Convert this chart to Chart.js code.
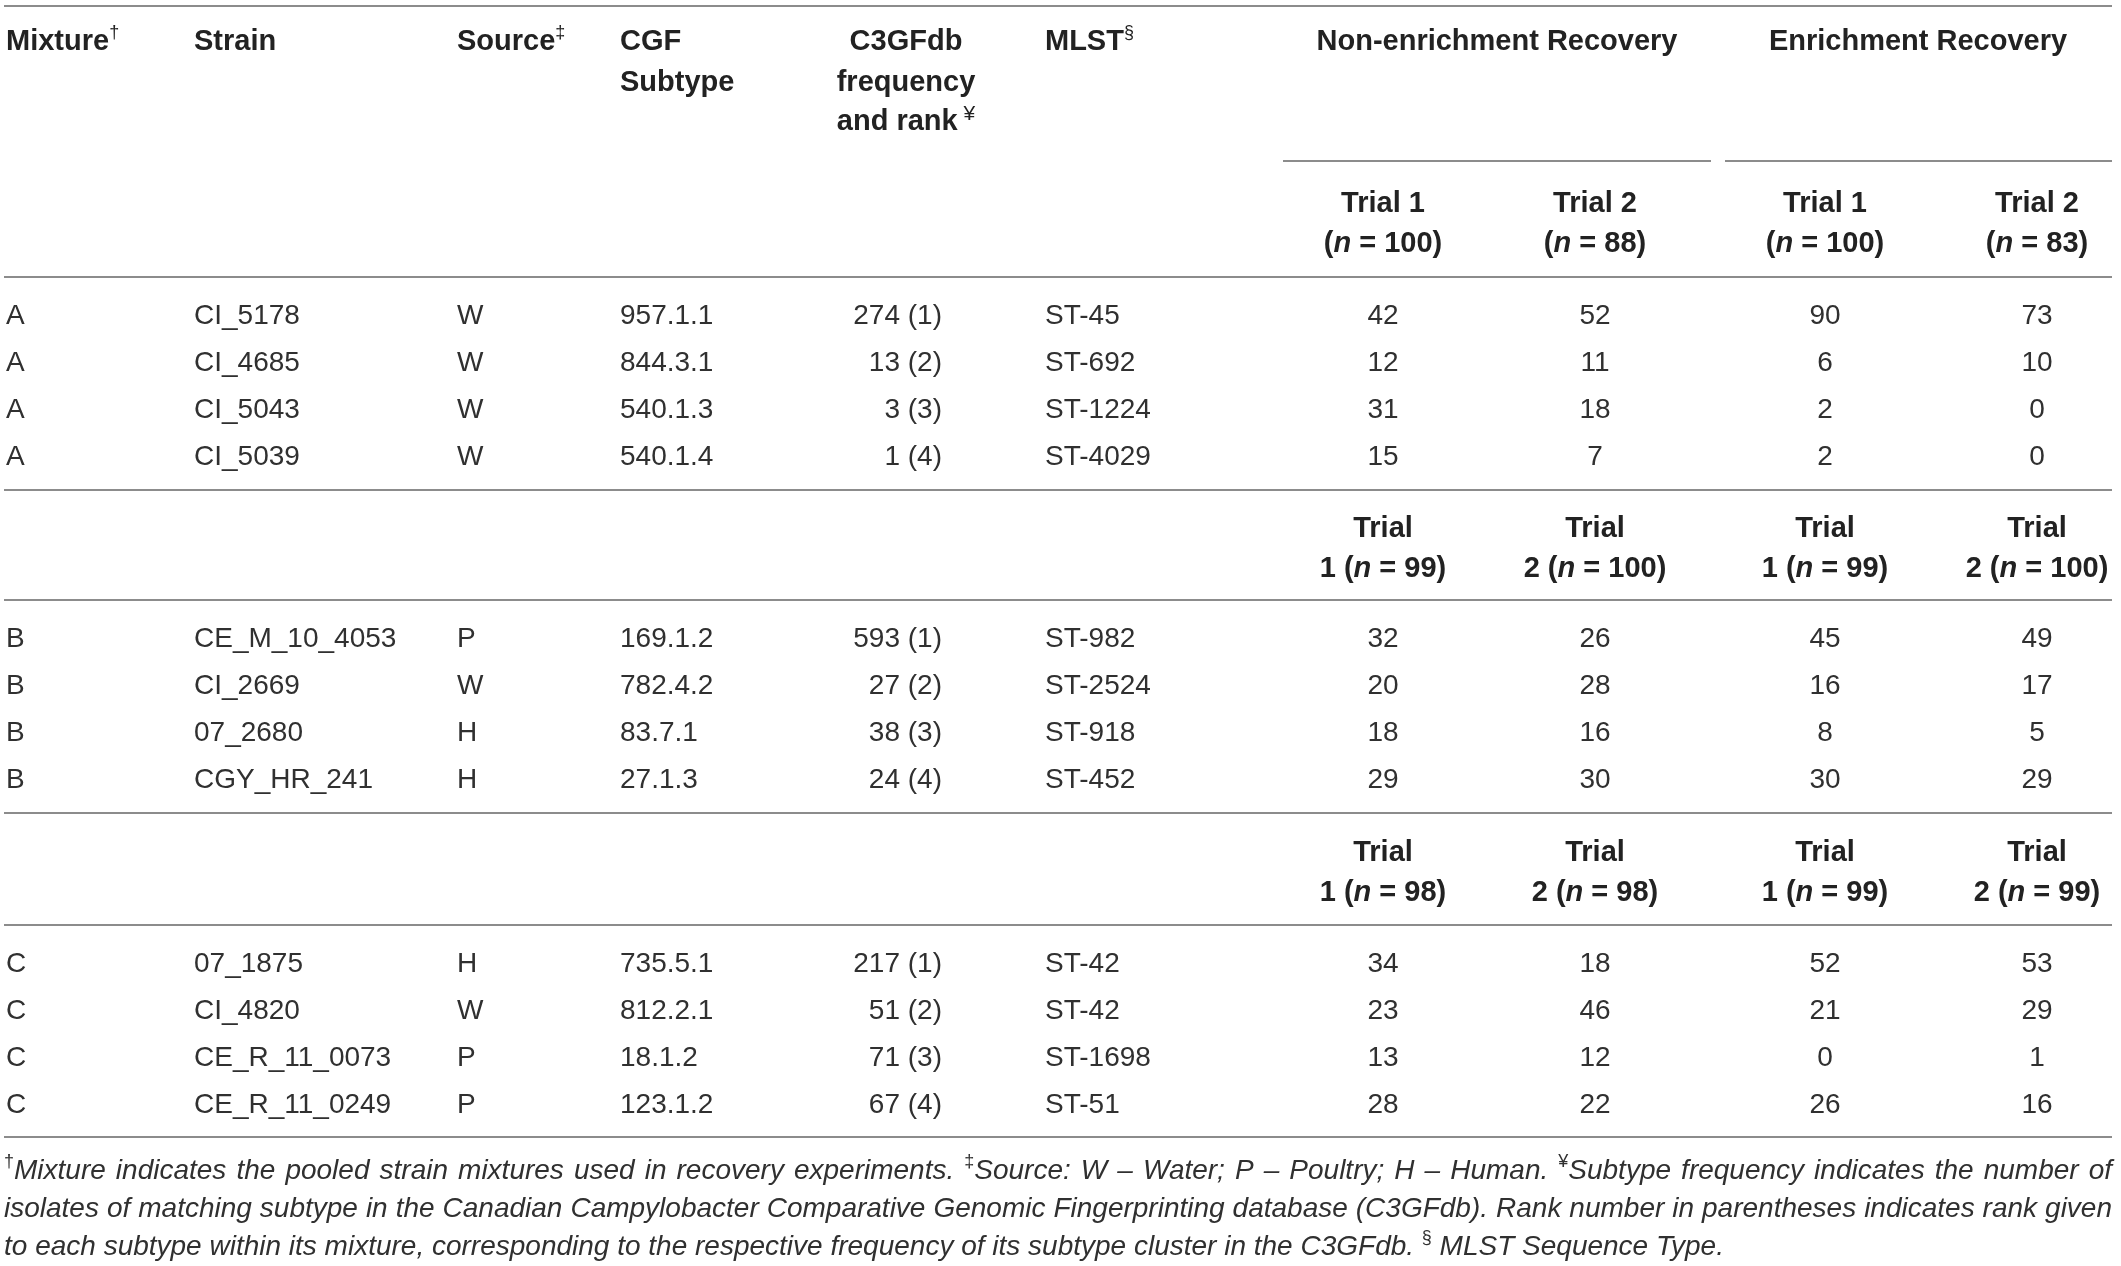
<!DOCTYPE html>
<html>
<head>
<meta charset="utf-8">
<script src="https://cdn.jsdelivr.net/npm/chart.js@4.4.0/dist/chart.umd.min.js"></script>
<style>
  html, body { margin: 0; padding: 0; background: #fff; }
  #wrap { width: 2121px; height: 1266px; position: relative; }
</style>
</head>
<body>
<div id="wrap"><canvas id="recovery-table"></canvas></div>
<script>
(function () {
  'use strict';

  // ---- table data ----
  const mixtureIds = ['A', 'B', 'C'];
  const mixtures = ['A', 'A', 'A', 'A', 'B', 'B', 'B', 'B', 'C', 'C', 'C', 'C'];
  const strains = ['CI_5178', 'CI_4685', 'CI_5043', 'CI_5039',
    'CE_M_10_4053', 'CI_2669', '07_2680', 'CGY_HR_241',
    '07_1875', 'CI_4820', 'CE_R_11_0073', 'CE_R_11_0249'];
  const sources = ['W', 'W', 'W', 'W', 'P', 'W', 'H', 'H', 'H', 'W', 'P', 'P'];
  const cgfSubtypes = ['957.1.1', '844.3.1', '540.1.3', '540.1.4',
    '169.1.2', '782.4.2', '83.7.1', '27.1.3',
    '735.5.1', '812.2.1', '18.1.2', '123.1.2'];
  const c3gfFrequency = [274, 13, 3, 1, 593, 27, 38, 24, 217, 51, 71, 67];
  const c3gfRank = [1, 2, 3, 4, 1, 2, 3, 4, 1, 2, 3, 4];
  const mlstTypes = ['ST-45', 'ST-692', 'ST-1224', 'ST-4029',
    'ST-982', 'ST-2524', 'ST-918', 'ST-452',
    'ST-42', 'ST-42', 'ST-1698', 'ST-51'];
  const nonEnrichTrial1 = [42, 12, 31, 15, 32, 20, 18, 29, 34, 23, 13, 28];
  const nonEnrichTrial2 = [52, 11, 18, 7, 26, 28, 16, 30, 18, 46, 12, 22];
  const enrichTrial1 = [90, 6, 2, 2, 45, 16, 8, 30, 52, 21, 0, 26];
  const enrichTrial2 = [73, 10, 0, 0, 49, 17, 5, 29, 53, 29, 1, 16];
  // isolates picked per trial, one entry per mixture
  const nonEnrichN1 = [100, 99, 98];
  const nonEnrichN2 = [88, 100, 98];
  const enrichN1 = [100, 99, 99];
  const enrichN2 = [83, 100, 99];

  const footnoteLines = [
    '^†Mixture indicates the pooled strain mixtures used in recovery experiments. ^‡Source: W – Water; P – Poultry; H – Human. ^¥Subtype frequency indicates the number of',
    'isolates of matching subtype in the Canadian Campylobacter Comparative Genomic Fingerprinting database (C3GFdb). Rank number in parentheses indicates rank given',
    'to each subtype within its mixture, corresponding to the respective frequency of its subtype cluster in the C3GFdb. ^§ MLST Sequence Type.'
  ];

  // ---- layout (scale units) ----
  const W = 2121, H = 1266;
  const col = {
    mixture: 6, strain: 194, source: 457, cgf: 620,
    freqHead: 906, freqRight: 942, mlst: 1045,
    trials: [1383, 1595, 1825, 2037],
    groups: [1497, 1918],
    left: 4, right: 2112
  };
  const groupRules = [[1283, 1711], [1725, 2112]];
  const textShift = 2;
  const headY = [40, 81, 120];
  const subRuleY = 161;
  const trialHeadY = [202, 242];
  const blockStart = [314, 637, 962];
  const rowStep = 47;
  const blockHeadY = [null, [527, 567], [851, 891]];
  const rulesY = [6, 277, 490, 600, 813, 925, 1137];
  const footY = [1171, 1209, 1247];

  const FAM = '"Liberation Sans", Arial, Helvetica, sans-serif';
  const fBody = '28px ' + FAM;
  const fBold = 'bold 29px ' + FAM;
  const fBoldIt = 'italic bold 29px ' + FAM;
  const fSup = '18px ' + FAM;
  const fFoot = 'italic 28px ' + FAM;
  const fFootSup = '18px ' + FAM;
  const textColor = '#303030';
  const headColor = '#222';
  const ruleColor = '#8c8c8c';

  function drawRich(ctx, segs, x, y, align) {
    let w = 0;
    segs.forEach(function (s) { ctx.font = s.f; w += ctx.measureText(s.t).width; });
    let cx = align === 'left' ? x : align === 'right' ? x - w : x - w / 2;
    segs.forEach(function (s) {
      ctx.font = s.f;
      ctx.fillText(s.t, cx, y + (s.dy || 0));
      cx += ctx.measureText(s.t).width;
    });
  }

  function footWord(word) {
    if (word.charAt(0) === '^') {
      const segs = [{ t: word.charAt(1), f: fFootSup, dy: -9 }];
      if (word.length > 2) segs.push({ t: word.slice(2), f: fFoot });
      return segs;
    }
    return [{ t: word, f: fFoot }];
  }

  const tablePlugin = {
    id: 'tablePlugin',
    afterDraw: function (chart) {
      const ctx = chart.ctx;
      const sx = chart.scales.x, sy = chart.scales.y;
      const px = function (v) { return sx.getPixelForValue(v); };
      const py = function (v) { return sy.getPixelForValue(v); };
      const ty = function (v) { return sy.getPixelForValue(v + textShift); };
      ctx.save();
      ctx.textBaseline = 'middle';

      // rules
      ctx.strokeStyle = ruleColor;
      ctx.lineWidth = 2;
      rulesY.forEach(function (y) {
        ctx.beginPath();
        ctx.moveTo(px(col.left), py(y));
        ctx.lineTo(px(col.right), py(y));
        ctx.stroke();
      });
      groupRules.forEach(function (r) {
        ctx.beginPath();
        ctx.moveTo(px(r[0]), py(subRuleY));
        ctx.lineTo(px(r[1]), py(subRuleY));
        ctx.stroke();
      });

      // column headers
      ctx.fillStyle = headColor;
      drawRich(ctx, [{ t: 'Mixture', f: fBold }, { t: '†', f: fSup, dy: -9 }], px(col.mixture), ty(headY[0]), 'left');
      drawRich(ctx, [{ t: 'Strain', f: fBold }], px(col.strain), ty(headY[0]), 'left');
      drawRich(ctx, [{ t: 'Source', f: fBold }, { t: '‡', f: fSup, dy: -9 }], px(col.source), ty(headY[0]), 'left');
      drawRich(ctx, [{ t: 'CGF', f: fBold }], px(col.cgf), ty(headY[0]), 'left');
      drawRich(ctx, [{ t: 'Subtype', f: fBold }], px(col.cgf), ty(headY[1]), 'left');
      drawRich(ctx, [{ t: 'C3GFdb', f: fBold }], px(col.freqHead), ty(headY[0]), 'center');
      drawRich(ctx, [{ t: 'frequency', f: fBold }], px(col.freqHead), ty(headY[1]), 'center');
      drawRich(ctx, [{ t: 'and rank', f: fBold }, { t: ' ¥', f: '21px ' + FAM, dy: -8 }], px(col.freqHead), ty(headY[2]), 'center');
      drawRich(ctx, [{ t: 'MLST', f: fBold }, { t: '§', f: fSup, dy: -9 }], px(col.mlst), ty(headY[0]), 'left');
      drawRich(ctx, [{ t: 'Non-enrichment Recovery', f: fBold }], px(col.groups[0]), ty(headY[0]), 'center');
      drawRich(ctx, [{ t: 'Enrichment Recovery', f: fBold }], px(col.groups[1]), ty(headY[0]), 'center');

      const nLists = [nonEnrichN1, nonEnrichN2, enrichN1, enrichN2];
      const trialNo = [1, 2, 1, 2];

      mixtureIds.forEach(function (m, b) {
        // trial header for each mixture block
        col.trials.forEach(function (tx, k) {
          const n = nLists[k][b];
          if (b === 0) {
            drawRich(ctx, [{ t: 'Trial ' + trialNo[k], f: fBold }], px(tx), ty(trialHeadY[0]), 'center');
            drawRich(ctx, [{ t: '(', f: fBold }, { t: 'n', f: fBoldIt }, { t: ' = ' + n + ')', f: fBold }],
              px(tx), ty(trialHeadY[1]), 'center');
          } else {
            drawRich(ctx, [{ t: 'Trial', f: fBold }], px(tx), ty(blockHeadY[b][0]), 'center');
            drawRich(ctx, [{ t: trialNo[k] + ' (', f: fBold }, { t: 'n', f: fBoldIt }, { t: ' = ' + n + ')', f: fBold }],
              px(tx), ty(blockHeadY[b][1]), 'center');
          }
        });
      });

      // body rows
      ctx.fillStyle = textColor;
      mixtures.forEach(function (m, i) {
        const b = mixtureIds.indexOf(m);
        const first = mixtures.indexOf(m);
        const y = ty(blockStart[b] + (i - first) * rowStep);
        drawRich(ctx, [{ t: m, f: fBody }], px(col.mixture), y, 'left');
        drawRich(ctx, [{ t: strains[i], f: fBody }], px(col.strain), y, 'left');
        drawRich(ctx, [{ t: sources[i], f: fBody }], px(col.source), y, 'left');
        drawRich(ctx, [{ t: cgfSubtypes[i], f: fBody }], px(col.cgf), y, 'left');
        drawRich(ctx, [{ t: c3gfFrequency[i] + ' (' + c3gfRank[i] + ')', f: fBody }], px(col.freqRight), y, 'right');
        drawRich(ctx, [{ t: mlstTypes[i], f: fBody }], px(col.mlst), y, 'left');
        [nonEnrichTrial1, nonEnrichTrial2, enrichTrial1, enrichTrial2].forEach(function (arr, k) {
          drawRich(ctx, [{ t: String(arr[i]), f: fBody }], px(col.trials[k]), y, 'center');
        });
      });

      // footnote, first two lines justified
      footnoteLines.forEach(function (line, li) {
        const words = line.split(' ').map(footWord);
        const widths = words.map(function (segs) {
          let w = 0;
          segs.forEach(function (s) { ctx.font = s.f; w += ctx.measureText(s.t).width; });
          return w;
        });
        ctx.font = fFoot;
        const space = ctx.measureText(' ').width;
        const total = widths.reduce(function (a, c) { return a + c; }, 0);
        const avail = px(col.right) - px(col.left);
        const gap = li < footnoteLines.length - 1 ? (avail - total) / (words.length - 1) : space;
        let x = px(col.left);
        words.forEach(function (segs, wi) {
          drawRich(ctx, segs, x, py(footY[li]), 'left');
          x += widths[wi] + gap;
        });
      });

      ctx.restore();
    }
  };

  function init() {
    const ctx = document.getElementById('recovery-table');
    new Chart(ctx, {
      type: 'scatter',
      data: { datasets: [] },
      options: {
        responsive: true,
        maintainAspectRatio: false,
        animation: false,
        layout: { padding: 0 },
        plugins: { legend: { display: false }, tooltip: { enabled: false } },
        scales: {
          x: { type: 'linear', min: 0, max: W, display: false },
          y: { type: 'linear', min: 0, max: H, reverse: true, display: false }
        }
      },
      plugins: [tablePlugin]
    });
  }

  if (document.readyState === 'loading') {
    document.addEventListener('DOMContentLoaded', init);
  } else {
    init();
  }
})();
</script>
</body>
</html>
